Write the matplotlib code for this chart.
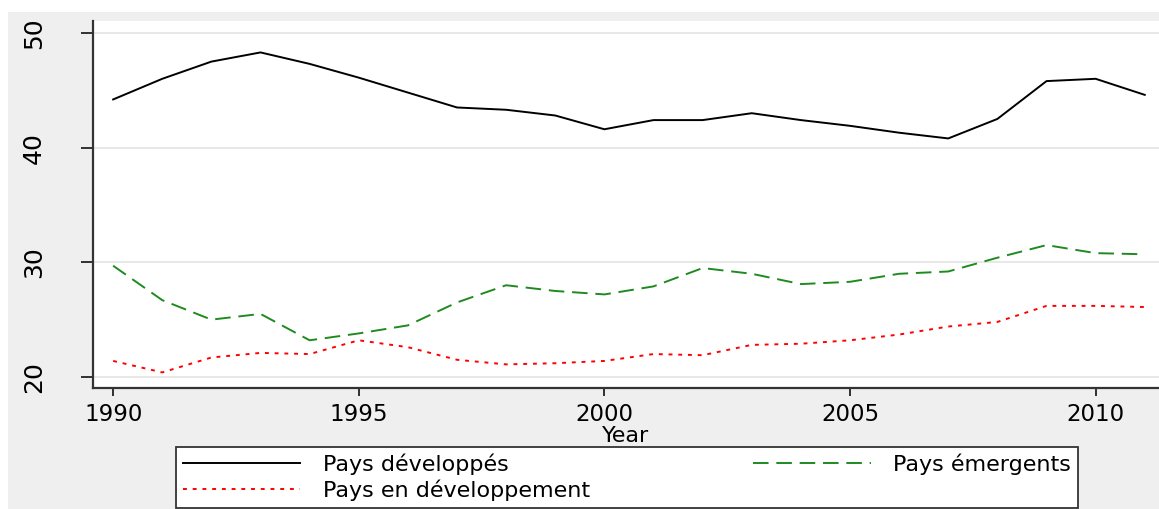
import numpy as np
import matplotlib
matplotlib.use("Agg")
from matplotlib import pyplot as plt
from matplotlib.patches import Rectangle

years = list(range(1990, 2012))

# taux (%) par groupe de pays
pays_developpes = [44.2, 46.0, 47.5, 48.3, 47.3, 46.1, 44.8, 43.5, 43.3, 42.8, 41.6,
                   42.4, 42.4, 43.0, 42.4, 41.9, 41.3, 40.8, 42.5, 45.8, 46.0, 44.6]
pays_emergents = [29.7, 26.7, 25.0, 25.5, 23.2, 23.8, 24.5, 26.5, 28.0, 27.5, 27.2,
                  27.9, 29.5, 29.0, 28.1, 28.3, 29.0, 29.2, 30.4, 31.5, 30.8, 30.7]
pays_en_dev = [21.4, 20.4, 21.7, 22.1, 22.0, 23.2, 22.6, 21.5, 21.1, 21.2, 21.4,
               22.0, 21.9, 22.8, 22.9, 23.2, 23.7, 24.4, 24.8, 26.2, 26.2, 26.1]

ytick_vals = [20, 30, 40, 50]
xtick_vals = [1990, 1995, 2000, 2005, 2010]

W, H = 1159, 509
fig = plt.figure(figsize=(W / 100, H / 100), dpi=100, facecolor="white")

# fond gris façon Stata
bg = Rectangle((8 / W, 0), 1, 1 - 12 / H, transform=fig.transFigure,
               facecolor="#efefef", edgecolor="none", zorder=-10)
fig.add_artist(bg)

ax = fig.add_axes([93 / W, 1 - 388 / H, (W - 93) / W, (388 - 21) / H])
ax.set_facecolor("white")

l1, = ax.plot(years, pays_developpes, color="black", lw=1.4, label="Pays développés")
l2, = ax.plot(years, pays_emergents, color="#1f8a1f", lw=1.4, dashes=(8, 4),
              label="Pays émergents")
l3, = ax.plot(years, pays_en_dev, color="red", lw=1.4, dashes=(2, 3),
              label="Pays en développement")

ax.set_xlim(1989.59, 2011.29)
ax.set_ylim(19.04, 51.04)
ax.set_yticks(ytick_vals)
ax.set_xticks(xtick_vals)
ax.grid(axis="y", color="#e6e6e6", lw=1.3)
ax.set_axisbelow(True)

for s in ["top", "right"]:
    ax.spines[s].set_visible(False)
for s in ["left", "bottom"]:
    ax.spines[s].set_color("#333333")
    ax.spines[s].set_linewidth(1.6)

ax.tick_params(axis="y", length=9, width=1.3, pad=25, labelsize=18, color="#222222")
ax.tick_params(axis="x", length=6, width=1.3, pad=5, labelsize=16.5, color="#222222")
for t in ax.get_yticklabels():
    t.set_rotation(90)
    t.set_va("center")

ax.set_xlabel("Year", fontsize=16, labelpad=0)

leg = fig.legend([l1, l3, l2], ["Pays développés", "Pays en développement", "Pays émergents"],
                 ncol=2, loc="upper left", mode="expand",
                 bbox_to_anchor=(176 / W, 0, 902 / W, 1 - 447 / H),
                 fontsize=16, handlelength=5.3, handletextpad=1.0,
                 borderpad=0.3, labelspacing=0.2, borderaxespad=0,
                 frameon=True, fancybox=False, framealpha=1,
                 edgecolor="#333333", facecolor="white")
leg.get_frame().set_linewidth(1.3)

fig.savefig("out.png", dpi=100, facecolor=fig.get_facecolor())
